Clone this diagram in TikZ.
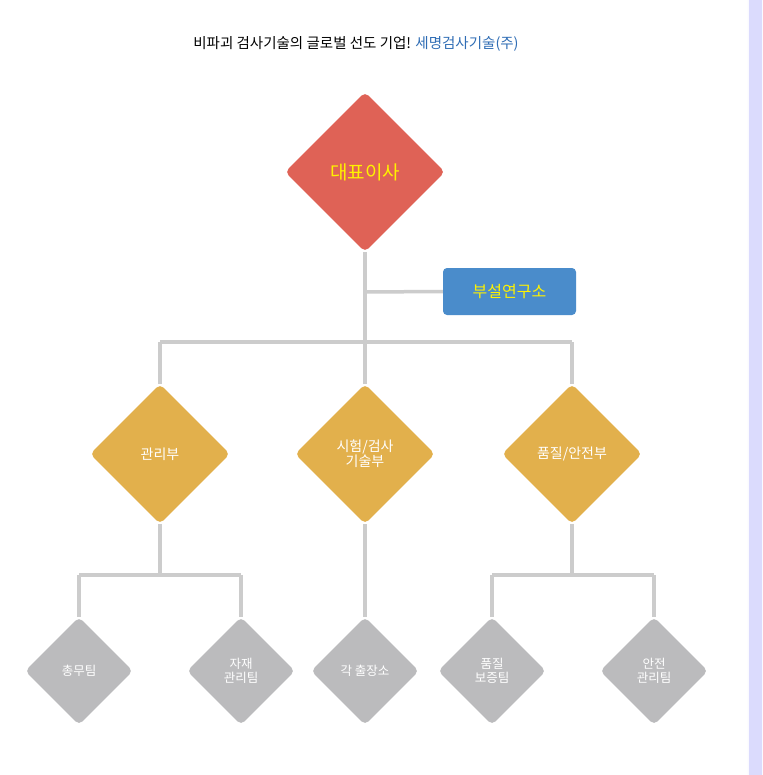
\documentclass[tikz,border=0pt]{standalone}
\usepackage{fontspec}
\setmainfont{Noto Sans CJK KR}
\usetikzlibrary{shapes.geometric}
\definecolor{redd}{HTML}{DF6256}
\definecolor{orng}{HTML}{E2B04C}
\definecolor{gryd}{HTML}{BBBBBD}
\definecolor{linec}{HTML}{CCCCCC}
\definecolor{bluebox}{HTML}{4A8CCB}
\definecolor{ylw}{HTML}{FFF200}
\definecolor{titleblue}{HTML}{2F6DB5}
\begin{document}
\begin{tikzpicture}[x=1pt,y=-1pt,
  dia/.style={diamond,aspect=1,inner sep=0pt,rounded corners=5pt,align=center,font=\fontsize{12}{13}\selectfont,text=white},
  big/.style={dia,fill=redd,minimum size=160pt,text=ylw,font=\fontsize{19}{21}\selectfont},
  mid/.style={dia,fill=orng,minimum size=140pt,font=\fontsize{14}{15}\selectfont},
  small/.style={dia,fill=gryd,minimum size=108pt,font=\fontsize{12.5}{14}\selectfont},
  conn/.style={draw=linec,line width=3.5pt}]
\useasboundingbox (0,0) rectangle (762,775);
\fill[white] (0,0) rectangle (762,775);
\shade[left color=white,right color=black!4!blue!15!white] (746,0) rectangle (762,775);
\fill[black!4!blue!14!white] (749,0) rectangle (762,775);
\node (title) at (356,44) {\fontsize{14.5}{16}\selectfont 비파괴 검사기술의 글로벌 선도 기업! \textcolor{titleblue}{세명검사기술(주)}};
% connectors first
\coordinate (j0) at (365,342);
\coordinate (jl) at (160,342);
\coordinate (jr) at (572,342);
\coordinate (jb) at (365,292);
\coordinate (l1) at (160,575);
\coordinate (l2) at (79,575);
\coordinate (l3) at (241,575);
\coordinate (r1) at (572,575);
\coordinate (r2) at (492,575);
\coordinate (r3) at (654,575);
\node[big] (ceo) at (365,172) {대표이사};
\node[mid] (mgmt) at (160,454) {관리부};
\node[mid] (test) at (365,454) {시험/검사\\기술부};
\node[mid] (qual) at (572,454) {품질/안전부};
\node[small] (ga) at (79,671) {총무팀};
\node[small] (mat) at (241,671) {자재\\관리팀};
\node[small] (site) at (365,671) {각 출장소};
\node[small] (qa) at (492,671) {품질\\보증팀};
\node[small] (safe) at (654,671) {안전\\관리팀};
\node[fill=bluebox,rounded corners=4pt,minimum width=133pt,minimum height=47pt,text=ylw,font=\fontsize{16}{18}\selectfont] (lab) at (509.5,291.5) {부설연구소};
\begin{scope}[on background layer/.try]
\end{scope}
\draw[conn] (ceo.south) -- (j0);
\draw[conn] (jb) -- (lab.west);
\draw[conn] (jl) -- (jr);
\draw[conn] (jl) -- (mgmt.north);
\draw[conn] (j0) -- (test.north);
\draw[conn] (jr) -- (qual.north);
\draw[conn] (mgmt.south) -- (l1);
\draw[conn] (l2) -- (l3);
\draw[conn] (l2) -- (ga.north);
\draw[conn] (l3) -- (mat.north);
\draw[conn] (test.south) -- (site.north);
\draw[conn] (qual.south) -- (r1);
\draw[conn] (r2) -- (r3);
\draw[conn] (r2) -- (qa.north);
\draw[conn] (r3) -- (safe.north);
\end{tikzpicture}
\end{document}
